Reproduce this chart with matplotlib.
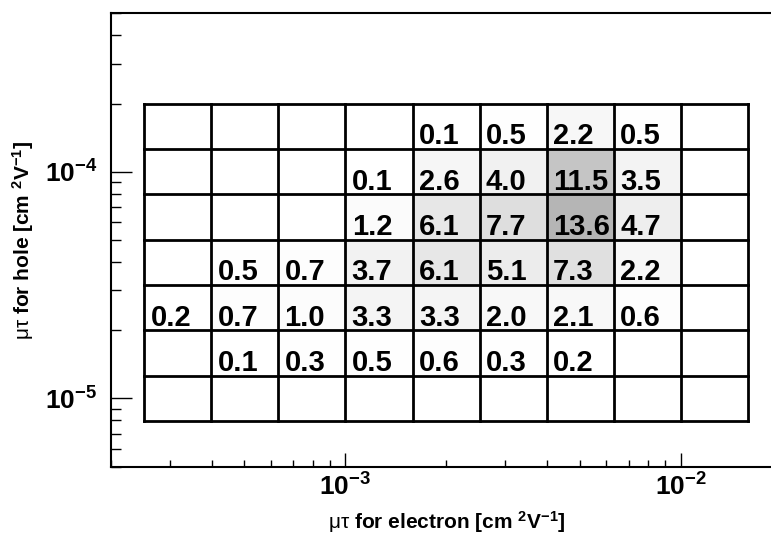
from matplotlib import pyplot as plt
from matplotlib.ticker import LogLocator, NullFormatter
import numpy as np

plt.rcParams["font.family"] = ["Liberation Sans", "DejaVu Sans"]
plt.rcParams["mathtext.fontset"] = "custom"
plt.rcParams["mathtext.rm"] = "Liberation Sans"
plt.rcParams["mathtext.bf"] = "Liberation Sans:bold"
plt.rcParams["mathtext.it"] = "Liberation Sans:italic"
plt.rcParams["mathtext.default"] = "bf"

# bin edges (log10 of mu*tau)
x_edges_log = [-3.6, -3.4, -3.2, -3.0, -2.8, -2.6, -2.4, -2.2, -2.0, -1.8]
y_edges_log = [-5.1, -4.9, -4.7, -4.5, -4.3, -4.1, -3.9, -3.7]

# percentage per cell, rows from bottom (hole) to top, columns electron
# None = empty cell
cell_values = [
    [None, None, None, None, None, None, None, None, None],
    [None, 0.1, 0.3, 0.5, 0.6, 0.3, 0.2, None, None],
    [0.2, 0.7, 1.0, 3.3, 3.3, 2.0, 2.1, 0.6, None],
    [None, 0.5, 0.7, 3.7, 6.1, 5.1, 7.3, 2.2, None],
    [None, None, None, 1.2, 6.1, 7.7, 13.6, 4.7, None],
    [None, None, None, 0.1, 2.6, 4.0, 11.5, 3.5, None],
    [None, None, None, None, 0.1, 0.5, 2.2, 0.5, None],
]

x_ticks = [1e-3, 1e-2]
x_ticklabels = [r"$10^{-3}$", r"$10^{-2}$"]
y_ticks = [1e-5, 1e-4]
y_ticklabels = [r"$10^{-5}$", r"$10^{-4}$"]


def main():
    fig = plt.figure(figsize=(7.71, 5.35), dpi=100)
    ax = fig.add_axes([0.144, 0.1277, 0.870, 0.8473])

    xe = 10.0 ** np.array(x_edges_log)
    ye = 10.0 ** np.array(y_edges_log)

    vals = np.array([[np.nan if v is None else v for v in row] for row in cell_values])
    dens = np.nan_to_num(vals, nan=0.0)
    ax.pcolormesh(xe, ye, dens, cmap="Greys", vmin=0, vmax=34, shading="flat",
                  edgecolors="none", zorder=1)

    # cell boxes
    for x in xe:
        ax.plot([x, x], [ye[0], ye[-1]], color="black", lw=2.0, zorder=3)
    for y in ye:
        ax.plot([xe[0], xe[-1]], [y, y], color="black", lw=2.0, zorder=3)

    # labels
    for i, row in enumerate(cell_values):
        for j, v in enumerate(row):
            if v is None:
                continue
            ax.annotate(f"{v:.1f}", (xe[j], ye[i]), xytext=(4.5, 3.5),
                        textcoords="offset points", ha="left", va="baseline",
                        fontsize=21, fontweight="bold", zorder=4)

    ax.set_xscale("log")
    ax.set_yscale("log")
    ax.set_xlim(2e-4, 2e-2)
    ax.set_ylim(5e-6, 5e-4)

    ax.set_xticks(x_ticks)
    ax.set_xticklabels(x_ticklabels)
    ax.set_yticks(y_ticks)
    ax.set_yticklabels(y_ticklabels)
    ax.xaxis.set_minor_locator(LogLocator(base=10, subs=np.arange(2, 10)))
    ax.yaxis.set_minor_locator(LogLocator(base=10, subs=np.arange(2, 10)))
    ax.xaxis.set_minor_formatter(NullFormatter())
    ax.yaxis.set_minor_formatter(NullFormatter())

    ax.tick_params(which="both", direction="in", top=False, right=False,
                   labelsize=19, width=1.0)
    ax.tick_params(axis="x", which="major", length=10, pad=5)
    ax.tick_params(axis="x", which="minor", length=5)
    ax.tick_params(axis="y", which="major", length=15, pad=10)
    ax.tick_params(axis="y", which="minor", length=7.5)

    for s in ax.spines.values():
        s.set_linewidth(1.5)

    ax.set_xlabel(r"$\mathrm{\mu\tau}$ for electron [cm $^{2}$V$^{-1}$]",
                  fontsize=15, fontweight="bold", labelpad=6)
    ax.set_ylabel(r"$\mathrm{\mu\tau}$ for hole [cm $^{2}$V$^{-1}$]",
                  fontsize=15, fontweight="bold", labelpad=6)

    fig.savefig("out.png", dpi=100)


if __name__ == '__main__':
    main()
